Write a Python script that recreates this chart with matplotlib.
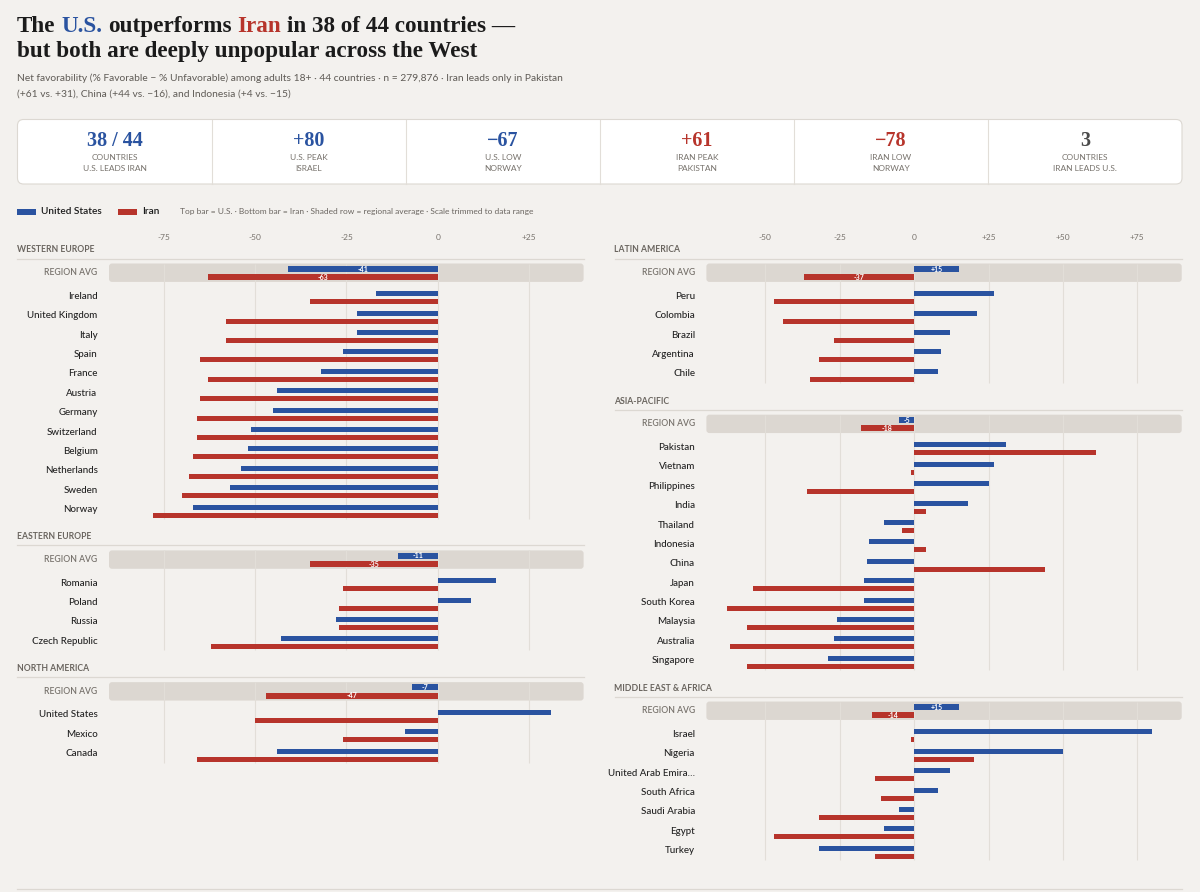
import matplotlib
matplotlib.use('Agg')
import matplotlib.pyplot as plt
import matplotlib.transforms as mtransforms
from matplotlib.patches import FancyBboxPatch, Rectangle
from matplotlib.lines import Line2D

W, H = 1200, 892
BG = '#f3f1ee'
BLUE = '#2a53a0'
RED = '#b7342b'
INK = '#1b1b1b'
GREY = '#77726c'
GRID = '#e2ded8'
BAND = '#dcd7d1'
SANS = ['Lato', 'DejaVu Sans']
SERIF = ['Liberation Serif', 'DejaVu Serif']

# ---- data: net favorability (% favorable - % unfavorable) ----
west_countries = ['Ireland', 'United Kingdom', 'Italy', 'Spain', 'France', 'Austria',
                  'Germany', 'Switzerland', 'Belgium', 'Netherlands', 'Sweden', 'Norway']
west_us = [-17, -22, -22, -26, -32, -44, -45, -51, -52, -54, -57, -67]
west_iran = [-35, -58, -58, -65, -63, -65, -66, -66, -67, -68, -70, -78]

east_countries = ['Romania', 'Poland', 'Russia', 'Czech Republic']
east_us = [16, 9, -28, -43]
east_iran = [-26, -27, -27, -62]

na_countries = ['United States', 'Mexico', 'Canada']
na_us = [31, -9, -44]
na_iran = [-50, -26, -66]

latam_countries = ['Peru', 'Colombia', 'Brazil', 'Argentina', 'Chile']
latam_us = [27, 21, 12, 9, 8]
latam_iran = [-47, -44, -27, -32, -35]

apac_countries = ['Pakistan', 'Vietnam', 'Philippines', 'India', 'Thailand', 'Indonesia',
                  'China', 'Japan', 'South Korea', 'Malaysia', 'Australia', 'Singapore']
apac_us = [31, 27, 25, 18, -10, -15, -16, -17, -17, -26, -27, -29]
apac_iran = [61, -1, -36, 4, -4, 4, 44, -54, -63, -56, -62, -56]

mea_countries = ['Israel', 'Nigeria', 'United Arab Emira…', 'South Africa',
                 'Saudi Arabia', 'Egypt', 'Turkey']
mea_us = [80, 50, 12, 8, -5, -10, -32]
mea_iran = [-1, 20, -13, -11, -32, -47, -13]

region_names = ['WESTERN EUROPE', 'EASTERN EUROPE', 'NORTH AMERICA',
                'LATIN AMERICA', 'ASIA-PACIFIC', 'MIDDLE EAST & AFRICA']
region_avg_us = [-41, -11, -7, 15, -5, 15]
region_avg_iran = [-63, -35, -47, -37, -18, -14]

kpi_values = ['38 / 44', '+80', '\u221267', '+61', '\u221278', '3']
kpi_line1 = ['COUNTRIES', 'U.S. PEAK', 'U.S. LOW', 'IRAN PEAK', 'IRAN LOW', 'COUNTRIES']
kpi_line2 = ['U.S. LEADS IRAN', 'ISRAEL', 'NORWAY', 'PAKISTAN', 'NORWAY', 'IRAN LEADS U.S.']
kpi_colors = [BLUE, BLUE, BLUE, RED, RED, '#4a4a4a']

left_ticks = [-75, -50, -25, 0, 25]
right_ticks = [-50, -25, 0, 25, 50, 75]


def fmt(v):
    return '0' if v == 0 else f'{v:+d}'


fig = plt.figure(figsize=(W / 100, H / 100), dpi=100, facecolor=BG)
page = mtransforms.Affine2D().scale(1 / W, -1 / H).translate(0, 1) + fig.transFigure
renderer = fig.canvas.get_renderer()


def text_width(s, **kw):
    t = fig.text(0, 0, s, **kw)
    w = t.get_window_extent(renderer).width
    t.remove()
    return w


def rich_line(x, y, parts, **kw):
    full = ''
    for s, c in parts:
        full = (full + ' ' + s) if full else s
        off = text_width(full, **kw) - text_width(s, **kw)
        fig.text(x + off, y, s, color=c, transform=page, va='baseline', **kw)


# ---- title block ----
tkw = dict(fontsize=16.7, fontweight='bold', family=SERIF)
rich_line(17, 32, [('The', INK), ('U.S.', BLUE), ('outperforms', INK), ('Iran', RED),
                   ('in 38 of 44 countries \u2014', INK)], **tkw)
rich_line(17, 57, [('but both are deeply unpopular across the West', INK)], **tkw)
fig.text(17, 78, 'Net favorability (% Favorable \u2212 % Unfavorable) among adults 18+ \u00b7 44 countries'
         ' \u00b7 n = 279,876 \u00b7 Iran leads only in Pakistan', transform=page,
         fontsize=7.35, color='#5f5b56', family=SANS, va='center')
fig.text(17, 94, '(+61 vs. +31), China (+44 vs. \u221216), and Indonesia (+4 vs. \u221215)',
         transform=page, fontsize=7.35, color='#5f5b56', family=SANS, va='center')

# ---- KPI cards ----
card_x0, card_x1, card_y0, card_y1 = 17.5, 1182, 119.5, 184
fig.add_artist(FancyBboxPatch((card_x0, card_y0), card_x1 - card_x0, card_y1 - card_y0,
                              boxstyle='round,pad=0,rounding_size=6', transform=page,
                              fc='white', ec='#dcd8d2', lw=0.8))
cw = (card_x1 - card_x0) / len(kpi_values)
for i, (val, l1, l2, col) in enumerate(zip(kpi_values, kpi_line1, kpi_line2, kpi_colors)):
    cx = card_x0 + cw * (i + 0.5)
    if i > 0:
        fig.add_artist(Line2D([card_x0 + cw * i] * 2, [card_y0, card_y1], transform=page,
                              color='#e2ded8', lw=0.8))
    fig.text(cx, 141, val, transform=page, ha='center', va='center', fontsize=14.5,
             fontweight='bold', color=col, family=SERIF)
    fig.text(cx, 157.5, l1, transform=page, ha='center', va='center', fontsize=6,
             color=GREY, family=SANS)
    fig.text(cx, 168.5, l2, transform=page, ha='center', va='center', fontsize=6,
             color=GREY, family=SANS)

# ---- legend ----
fig.add_artist(Rectangle((17, 208.5), 19, 6, transform=page, fc=BLUE, ec='none'))
fig.text(41, 211.5, 'United States', transform=page, va='center', fontsize=7.3,
         fontweight='semibold', color=INK, family=SANS)
fig.add_artist(Rectangle((118, 208.5), 19, 6, transform=page, fc=RED, ec='none'))
fig.text(142, 211.5, 'Iran', transform=page, va='center', fontsize=7.3,
         fontweight='semibold', color=INK, family=SANS)
fig.text(180, 211.5, 'Top bar = U.S. \u00b7 Bottom bar = Iran \u00b7 Shaded row = regional average'
         ' \u00b7 Scale trimmed to data range', transform=page, va='center', fontsize=6,
         color='#6b6661', family=SANS)

# ---- panels ----
ROW = 19.39


def draw_panel(x0, x1, xlim, ticks, head_x, label_x, sections):
    ax = fig.add_axes([x0 / W, 0, (x1 - x0) / W, 1])
    ax.set_xlim(*xlim)
    ax.set_ylim(H, 0)
    ax.axis('off')
    lab = mtransforms.blended_transform_factory(page, ax.transData)
    for t in ticks:
        ax.text(t, 237, fmt(t), ha='center', va='center', fontsize=6, color=GREY, family=SANS)
    top = 250
    for name, countries, us, iran, a_us, a_iran in sections:
        ax.text(head_x, top, name, transform=lab, va='center', fontsize=6.2,
                fontweight='bold', color='#6a655f', family=SANS)
        ax.add_line(Line2D([head_x, x1], [top + 8.5] * 2, transform=lab, color='#dcd8d2',
                           lw=0.9, clip_on=False))
        ax.add_patch(FancyBboxPatch((x0, top + 13.5), x1 - x0, 18.4,
                                    boxstyle='round,pad=0,rounding_size=3', transform=lab,
                                    fc=BAND, ec='none', zorder=0.3, clip_on=False))
        avg_y = top + 22.7
        ax.text(label_x, avg_y, 'REGION AVG', transform=lab, ha='right', va='center',
                fontsize=6.2, fontweight='semibold', color=GREY, family=SANS)
        ax.barh([avg_y - 4, avg_y + 4.3], [a_us, a_iran], height=6, color=[BLUE, RED], zorder=2)
        for yy, v in zip([avg_y - 4, avg_y + 4.3], [a_us, a_iran]):
            ax.text(v / 2, yy + 0.3, fmt(v), ha='center', va='center', fontsize=5,
                    fontweight='bold', color='white', family=SANS, zorder=3)
        ys = [top + 46.3 + i * ROW for i in range(len(countries))]
        ax.barh([y - 2.5 for y in ys], us, height=5, color=BLUE, zorder=2)
        ax.barh([y + 5.5 for y in ys], iran, height=5, color=RED, zorder=2)
        for y, c in zip(ys, countries):
            ax.text(label_x, y, c, transform=lab, ha='right', va='center', fontsize=7,
                    fontweight='medium', color='#222222', family=SANS)
        ax.vlines(ticks, top + 13.5, ys[-1] + 9, color=GRID, lw=0.8, zorder=0.5)
        top = ys[-1] + 27.3


draw_panel(109, 583.6, (-90, 39.9), left_ticks, 17, 97.5, [
    (region_names[0], west_countries, west_us, west_iran, region_avg_us[0], region_avg_iran[0]),
    (region_names[1], east_countries, east_us, east_iran, region_avg_us[1], region_avg_iran[1]),
    (region_names[2], na_countries, na_us, na_iran, region_avg_us[2], region_avg_iran[2]),
])
draw_panel(706.4, 1181.7, (-69.8, 89.9), right_ticks, 614.5, 695, [
    (region_names[3], latam_countries, latam_us, latam_iran, region_avg_us[3], region_avg_iran[3]),
    (region_names[4], apac_countries, apac_us, apac_iran, region_avg_us[4], region_avg_iran[4]),
    (region_names[5], mea_countries, mea_us, mea_iran, region_avg_us[5], region_avg_iran[5]),
])

fig.add_artist(Line2D([17, 1182], [889, 889], transform=page, color='#dcd8d2', lw=0.9))

fig.savefig('out.png', dpi=100, facecolor=BG)
